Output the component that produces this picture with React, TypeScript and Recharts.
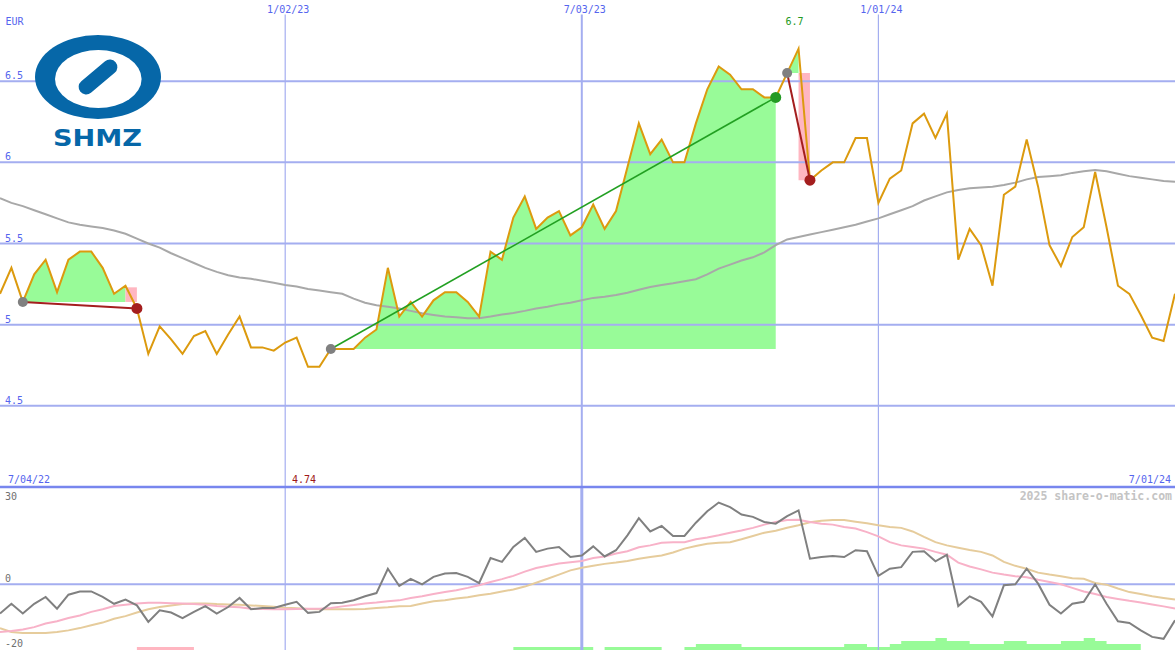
import React from 'react'
import { ComposedChart, Line, Area, XAxis, YAxis, ReferenceLine } from 'recharts'

const W = 1175
const TOP_H = 487
const BOT_H = 163
const MONO = '"DejaVu Sans Mono", monospace'
const GRID = '#A4AEF0'
const EDGE = '#7886EE'
const LABEL = '#5565EE'

// weekly closes, EUR
const price = [
  5.19, 5.35, 5.14, 5.31, 5.40, 5.20, 5.40, 5.45, 5.45, 5.35,
  5.19, 5.24, 5.10, 4.82, 4.99, 4.91, 4.82, 4.93, 4.96, 4.82,
  4.94, 5.05, 4.86, 4.86, 4.84, 4.89, 4.92, 4.74, 4.74, 4.85,
  4.85, 4.85, 4.92, 4.97, 5.35, 5.05, 5.14, 5.05, 5.15, 5.20,
  5.20, 5.14, 5.05, 5.45, 5.40, 5.66, 5.79, 5.59, 5.66, 5.70,
  5.55, 5.60, 5.74, 5.59, 5.70, 5.97, 6.24, 6.05, 6.14, 6.00,
  6.00, 6.24, 6.45, 6.59, 6.54, 6.45, 6.45, 6.40, 6.40, 6.55,
  6.70, 5.89, 5.95, 6.00, 6.00, 6.15, 6.15, 5.75, 5.90, 5.95,
  6.24, 6.30, 6.15, 6.30, 5.40, 5.59, 5.49, 5.24, 5.80, 5.85,
  6.14, 5.85, 5.49, 5.36, 5.54, 5.60, 5.94, 5.60, 5.24, 5.19,
  5.06, 4.92, 4.90, 5.19,
]

// long moving average (grey)
const ma = [
  5.78, 5.75, 5.73, 5.705, 5.68, 5.655, 5.63, 5.615, 5.605, 5.595,
  5.58, 5.56, 5.53, 5.50, 5.475, 5.44, 5.41, 5.38, 5.35, 5.325,
  5.305, 5.29, 5.283, 5.27, 5.258, 5.245, 5.235, 5.22, 5.21, 5.20,
  5.19, 5.16, 5.135, 5.12, 5.11, 5.10, 5.085, 5.07, 5.06, 5.05,
  5.045, 5.04, 5.04, 5.05, 5.062, 5.072, 5.085, 5.10, 5.11, 5.125,
  5.135, 5.15, 5.165, 5.172, 5.183, 5.197, 5.215, 5.232, 5.245, 5.255,
  5.268, 5.28, 5.31, 5.345, 5.37, 5.395, 5.415, 5.445, 5.49, 5.525,
  5.54, 5.555, 5.57, 5.585, 5.60, 5.615, 5.635, 5.655, 5.68, 5.705,
  5.73, 5.765, 5.79, 5.815, 5.83, 5.84, 5.845, 5.85, 5.86, 5.875,
  5.895, 5.91, 5.915, 5.92, 5.935, 5.945, 5.952, 5.945, 5.93, 5.915,
  5.905, 5.895, 5.885, 5.88,
]

// oscillator panel
const osc = [
  -9.0, -6.0, -9.0, -6.0, -3.9, -7.5, -3.2, -2.2, -2.2, -3.9,
  -6.0, -4.7, -6.5, -11.6, -8.0, -8.7, -10.4, -8.5, -6.7, -9.0,
  -7.0, -4.2, -7.7, -7.3, -7.3, -6.3, -5.4, -8.8, -8.5, -5.8,
  -5.7, -4.9, -3.7, -2.7, 4.8, -0.5, 1.7, 0.0, 2.3, 3.3,
  3.5, 2.3, 0.4, 8.1, 6.9, 11.5, 14.3, 10.0, 11.0, 11.5,
  8.4, 8.9, 11.7, 8.6, 10.5, 15.1, 20.4, 16.3, 18.0, 14.9,
  14.9, 19.0, 22.5, 25.2, 23.8, 21.5, 20.8, 19.2, 18.7, 21.0,
  22.8, 7.9, 8.4, 8.7, 8.4, 10.5, 10.2, 2.6, 4.8, 5.3,
  10.0, 10.2, 7.1, 9.1, -6.7, -3.7, -5.4, -9.9, -0.3, 0.0,
  4.8, 0.2, -6.3, -9.0, -6.0, -5.4, 0.0, -6.0, -11.4, -11.9,
  -14.2, -16.2, -16.8, -11.1,
]
const sig = [
  -14.7, -14.4, -13.9, -13.2, -12.1, -11.4, -10.4, -9.6, -8.5, -7.7,
  -6.7, -6.3, -5.9, -5.7, -5.7, -5.8, -5.9, -6.1, -6.3, -6.7,
  -6.9, -7.1, -7.5, -7.6, -7.7, -7.7, -7.6, -7.5, -7.5, -7.3,
  -6.8, -6.4, -5.9, -5.6, -5.2, -4.95, -4.2, -3.7, -3.0, -2.4,
  -1.8, -1.1, -0.3, 0.7, 1.6, 2.6, 3.9, 5.0, 5.7, 6.4,
  6.8, 7.2, 8.1, 8.6, 9.5, 10.2, 11.4, 12.0, 12.8, 13.0,
  13.0, 13.9, 14.4, 15.1, 15.9, 16.6, 17.4, 18.4, 19.2, 19.85,
  19.9, 19.2, 18.7, 18.4, 17.7, 17.2, 16.1, 14.8, 13.0, 12.0,
  11.5, 11.0, 10.0, 9.1, 6.7, 5.5, 4.6, 3.6, 3.0, 2.5,
  2.2, 1.4, 0.7, 0.0, -1.1, -2.2, -3.0, -3.9, -4.5, -5.1,
  -5.6, -6.2, -6.8, -7.5,
]
const slow = [
  -13.5, -14.7, -15.0, -15.0, -15.0, -14.7, -14.2, -13.5, -12.6, -11.8,
  -10.6, -9.8, -8.7, -7.7, -7.0, -6.5, -6.1, -5.9, -5.9, -6.1,
  -6.2, -6.3, -6.5, -6.7, -6.9, -7.2, -7.4, -7.6, -7.7, -7.7,
  -7.7, -7.7, -7.6, -7.3, -7.1, -6.8, -6.7, -5.9, -5.2, -4.9,
  -4.4, -4.0, -3.4, -2.9, -2.2, -1.6, -0.7, 0.5, 1.7, 3.0,
  4.3, 5.1, 5.7, 6.3, 6.7, 7.2, 7.9, 8.4, 8.9, 9.8,
  11.0, 11.8, 12.5, 12.8, 13.0, 13.9, 14.9, 15.9, 16.5, 17.45,
  18.2, 19.1, 19.6, 19.8, 19.8, 19.3, 18.8, 18.2, 17.7, 17.4,
  16.3, 14.6, 13.0, 12.0, 11.3, 10.6, 10.0, 8.9, 6.9, 5.7,
  4.8, 3.6, 3.0, 2.5, 1.9, 1.7, 0.4, -0.1, -1.3, -2.4,
  -3.0, -3.7, -4.2, -4.7,
]

// strength bars at the foot of the oscillator panel
const volStart = [12, 45, 53, 60]
const volColor = ['#FFB6C1', '#98FB98', '#98FB98', '#98FB98']
const volLevels = [
  [1, 1, 1, 1, 1, 1],
  [1, 1, 1, 1, 1, 1, 1, 1],
  [1, 1, 1, 1, 1, 1],
  [1, 2, 2, 2, 2, 1, 1, 1, 1, 1, 1, 1, 1, 1, 2, 2, 1, 1, 2, 3, 3, 3, 4, 3, 3, 2, 2, 2, 3, 3, 2, 2, 2, 3, 3, 4, 3, 2, 2, 2, 2],
]
const VOL_BASE = -20.25
const VOL_STEP = 0.925

// trend annotations
const trendFrom = [2, 29, 69]
const trendTo = [12, 68, 71]
const trendUp = [false, true, false]
const gainTo = [11, 68, 70]
const pinkFrom = [11, 70]
const pinkTo = [12, 71]
const pinkLo = [5.14, 5.89]
const pinkHi = [5.23, 6.55]

const yTicks = [4.5, 5, 5.5, 6, 6.5]
const dateIdx = [25, 51, 77]
const dateText = ['1/02/23', '7/03/23', '1/01/24']
const edgeText = ['7/04/22', '7/01/24']
const oscTicks = [-20, 0, 30]

const last = price.length - 1
const maxIdx = price.indexOf(Math.max(...price))
const minIdx = price.indexOf(Math.min(...price))

const topRows = price.map((p, i) => {
  const row: Record<string, any> = { i, price: p, ma: ma[i] }
  trendFrom.forEach((f, k) => {
    row['gain' + k] = i >= f && i <= gainTo[k] ? [price[f], p] : null
    row['trend' + k] = i === f || i === trendTo[k] ? p : null
  })
  pinkFrom.forEach((f, k) => {
    row['pink' + k] = i >= f && i <= pinkTo[k] ? [pinkLo[k], pinkHi[k]] : null
  })
  return row
})

const botRows = osc.map((v, i) => {
  const row: Record<string, any> = { i, osc: v, sig: sig[i], slow: slow[i] }
  volStart.forEach((s, k) => {
    const lv = i >= s ? volLevels[k][i - s] : undefined
    row['vol' + k] = lv != null ? [VOL_BASE, VOL_BASE + lv * VOL_STEP] : null
  })
  return row
})

const TopTick = (p: any) => {
  const v = p.payload.value
  if (v === maxIdx) {
    return <text x={p.x - 4} y={25} textAnchor="middle" fill="#229922" fontSize={10} fontFamily={MONO}>{String(price[maxIdx])}</text>
  }
  return <text x={p.x + 3} y={12.5} textAnchor="middle" fill={LABEL} fontSize={10} fontFamily={MONO}>{dateText[dateIdx.indexOf(v)]}</text>
}

const BottomTick = (p: any) => {
  const v = p.payload.value
  if (v === minIdx) {
    return <text x={p.x - 4} y={483} textAnchor="middle" fill="#A01818" fontSize={10} fontFamily={MONO}>{String(price[minIdx])}</text>
  }
  const first = v === 0
  return (
    <text x={first ? p.x + 8 : p.x - 4} y={483} textAnchor={first ? 'start' : 'end'} fill={LABEL} fontSize={10} fontFamily={MONO}>
      {first ? edgeText[0] : edgeText[1]}
    </text>
  )
}

const PriceTick = (p: any) => (
  <text x={5} y={p.y - 2} fill={LABEL} fontSize={10} fontFamily={MONO}>{p.payload.value}</text>
)

const OscTick = (p: any) => (
  <text x={5} y={p.payload.value === 30 ? p.y + 13 : p.y - 2.5} fill="#707070" fontSize={10} fontFamily={MONO}>{p.payload.value}</text>
)

const trendDot = (k: number) => (p: any) => {
  if (p.value == null || p.cy == null) return <g key={`t${k}-${p.index}`} />
  const start = p.payload.i === trendFrom[k]
  const fill = start ? '#808080' : trendUp[k] ? '#249A24' : '#A41E1E'
  return <circle key={`t${k}-${p.index}`} cx={p.cx} cy={p.cy} r={start ? 5 : 5.5} fill={fill} />
}

function PricePanel() {
  return (
    <ComposedChart width={W} height={TOP_H} data={topRows} margin={{ top: 0, right: 0, bottom: 0, left: 0 }}>
      <XAxis type="number" dataKey="i" domain={[0, last]} orientation="top" mirror
        ticks={[...dateIdx, maxIdx].sort((a, b) => a - b)} interval={0}
        axisLine={false} tickLine={false} tick={TopTick} />
      <XAxis xAxisId="b" type="number" dataKey="i" domain={[0, last]} orientation="bottom" mirror
        ticks={[0, minIdx, last]} interval={0}
        axisLine={false} tickLine={false} tick={BottomTick} />
      <YAxis type="number" domain={[4, 7]} ticks={yTicks} mirror interval={0}
        axisLine={false} tickLine={false} tick={PriceTick} />

      {trendFrom.map((_, k) => (
        <Area key={'g' + k} dataKey={'gain' + k} type="linear" stroke="none" fill="#98FB98" fillOpacity={1}
          isAnimationActive={false} dot={false} activeDot={false} />
      ))}
      {pinkFrom.map((_, k) => (
        <Area key={'p' + k} dataKey={'pink' + k} type="linear" stroke="none" fill="#FFB6C1" fillOpacity={1}
          isAnimationActive={false} dot={false} activeDot={false} />
      ))}

      {yTicks.map(v => (
        <ReferenceLine key={'h' + v} y={v} stroke={GRID} strokeWidth={2} />
      ))}
      {dateIdx.map(v => (
        <ReferenceLine key={'v' + v} segment={[{ x: v, y: 6.91 }, { x: v, y: 4 }]} stroke={GRID} strokeWidth={v === 51 ? 2 : 1.2} />
      ))}
      <ReferenceLine y={4} stroke={EDGE} strokeWidth={2.5} />

      <Line dataKey="ma" type="linear" stroke="#A8A8A8" strokeWidth={2} dot={false} activeDot={false} isAnimationActive={false} />
      <Line dataKey="price" type="linear" stroke="#DC9A0E" strokeWidth={2} dot={false} activeDot={false} isAnimationActive={false} />
      {trendFrom.map((_, k) => (
        <Line key={'t' + k} dataKey={'trend' + k} type="linear" connectNulls
          stroke={trendUp[k] ? '#22A022' : '#A41E1E'} strokeWidth={trendUp[k] ? 1.6 : 2}
          dot={trendDot(k)} activeDot={false} isAnimationActive={false} />
      ))}
    </ComposedChart>
  )
}

function OscPanel() {
  return (
    <ComposedChart width={W} height={BOT_H} data={botRows} margin={{ top: 0, right: 0, bottom: 0, left: 0 }}>
      <XAxis type="number" dataKey="i" domain={[0, last]} hide />
      <YAxis type="number" domain={[VOL_BASE, 30]} ticks={oscTicks} mirror interval={0}
        axisLine={false} tickLine={false} tick={OscTick} />

      {volStart.map((_, k) => (
        <Area key={'vol' + k} dataKey={'vol' + k} type="stepAfter" stroke="none" fill={volColor[k]} fillOpacity={1}
          isAnimationActive={false} dot={false} activeDot={false} />
      ))}

      <ReferenceLine y={0} stroke={GRID} strokeWidth={2} />
      {dateIdx.map(v => (
        <ReferenceLine key={'bv' + v} x={v} stroke={GRID} strokeWidth={v === 51 ? 3 : 1.2} />
      ))}
      <ReferenceLine y={30} stroke={EDGE} strokeWidth={2.5} />

      <Line dataKey="slow" type="linear" stroke="#E6CC9C" strokeWidth={2} dot={false} activeDot={false} isAnimationActive={false} />
      <Line dataKey="sig" type="linear" stroke="#F8B2C8" strokeWidth={2} dot={false} activeDot={false} isAnimationActive={false} />
      <Line dataKey="osc" type="linear" stroke="#808080" strokeWidth={2} dot={false} activeDot={false} isAnimationActive={false} />
    </ComposedChart>
  )
}

function Overlay() {
  return (
    <svg width={W} height={650} style={{ position: 'absolute', left: 0, top: 0, pointerEvents: 'none' }}>
      <text x={5.5} y={24.5} fill={LABEL} fontSize={10} fontFamily={MONO}>EUR</text>
      {/* company logo */}
      <ellipse cx={98} cy={77} rx={63} ry={42} fill="#0667A8" />
      <ellipse cx={98.3} cy={79} rx={43.3} ry={29} fill="#FFFFFF" />
      <rect x={75} y={69.5} width={46} height={15} rx={7.5} fill="#0667A8" transform="rotate(-40 98 77)" />
      <text x={97.5} y={146} textAnchor="middle" fill="#0667A8" fontSize={23} fontWeight={900}
        fontFamily='"DejaVu Sans", sans-serif' textLength={89} lengthAdjust="spacingAndGlyphs">SHMZ</text>
      <text x={1172} y={500} textAnchor="end" fill="#C4C4C4" fontSize={11.5} fontWeight="bold" fontFamily={MONO}>
        2025 share-o-matic.com
      </text>
    </svg>
  )
}

export default function App() {
  return (
    <div style={{ position: 'absolute', left: 0, top: 0, width: W, height: 650, background: '#FFFFFF', overflow: 'hidden' }}>
      <div style={{ position: 'absolute', left: 0, top: 0 }}>
        <PricePanel />
      </div>
      <div style={{ position: 'absolute', left: 0, top: TOP_H }}>
        <OscPanel />
      </div>
      <Overlay />
    </div>
  )
}
